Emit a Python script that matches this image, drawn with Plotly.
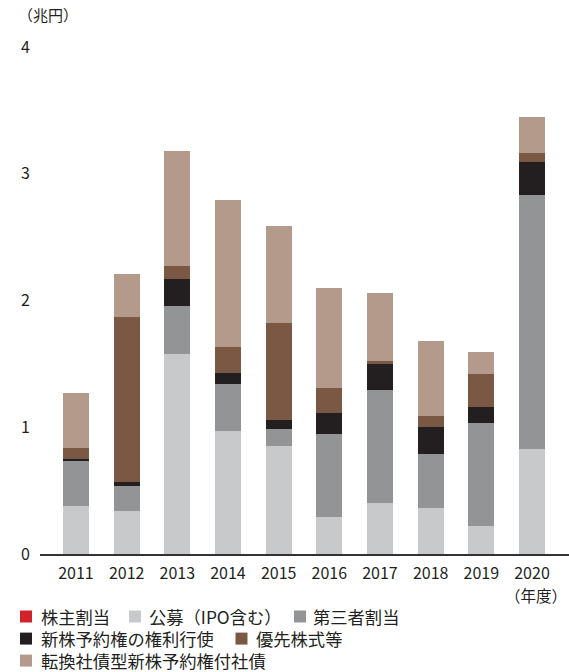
import plotly.graph_objects as go

# Fiscal years
years = ["2011", "2012", "2013", "2014", "2015", "2016", "2017", "2018", "2019", "2020"]

# Funds raised by method (trillion yen)
shareholder_allot = [0, 0, 0, 0, 0, 0, 0, 0, 0, 0]
public_offering = [0.38, 0.34, 1.58, 0.97, 0.85, 0.29, 0.40, 0.36, 0.22, 0.83]
third_party = [0.35, 0.20, 0.38, 0.37, 0.14, 0.66, 0.89, 0.43, 0.81, 2.00]
warrant_exercise = [0.02, 0.03, 0.21, 0.09, 0.07, 0.16, 0.21, 0.21, 0.13, 0.26]
preferred = [0.09, 1.30, 0.10, 0.20, 0.76, 0.20, 0.02, 0.09, 0.26, 0.07]
convertible = [0.43, 0.34, 0.91, 1.16, 0.77, 0.79, 0.54, 0.59, 0.17, 0.29]

series_names = ["株主割当", "公募（IPO含む）", "第三者割当",
                "新株予約権の権利行使", "優先株式等", "転換社債型新株予約権付社債"]
series_values = [shareholder_allot, public_offering, third_party,
                 warrant_exercise, preferred, convertible]
series_colors = ["#d2232a", "#c8c9cb", "#939495", "#231f20", "#7b5844", "#b39a8a"]

y_ticks = [0, 1, 2, 3, 4]

FONT = "Noto Sans CJK JP, Noto Sans, sans-serif"
TEXT = "#231f20"

W, H = 569, 672
ML, MR, MT, MB = 40, 0, 47, 118
PW, PH = W - ML - MR, H - MT - MB

fig = go.Figure()
for name, vals, col in zip(series_names, series_values, series_colors):
    fig.add_trace(go.Bar(
        x=years, y=vals, name=name, marker_color=col,
        marker_line_width=0, width=0.513, showlegend=False,
    ))


def px_x(px):
    return (px - ML) / PW


def px_y(py):
    return (H - MB - py) / PH


# legend rows: (square centre x, text x, row y, series index)
legend_items = [
    (26, 40, 616.5, 0), (135, 148, 616.5, 1), (300, 312, 616.5, 2),
    (26, 40, 638.6, 3), (241.5, 255, 638.6, 4),
    (26, 40, 660.6, 5),
]
shapes = []
annotations = []
for cx, tx, cy, i in legend_items:
    shapes.append(dict(
        type="rect", xref="paper", yref="paper",
        x0=px_x(cx - 6), x1=px_x(cx + 6), y0=px_y(cy + 6), y1=px_y(cy - 6),
        fillcolor=series_colors[i], line_width=0,
    ))
    annotations.append(dict(
        xref="paper", yref="paper", x=px_x(tx), y=px_y(cy),
        xanchor="left", yanchor="middle", showarrow=False, height=19,
        valign="middle", borderpad=0,
        text=series_names[i], font=dict(family=FONT, size=17.3, color=TEXT),
    ))

annotations.append(dict(
    xref="paper", yref="paper", x=px_x(16), y=px_y(15),
    xanchor="left", yanchor="middle", showarrow=False,
    text="（兆円）", font=dict(family=FONT, size=15, color=TEXT),
))
annotations.append(dict(
    xref="paper", yref="paper", x=px_x(569), y=px_y(595),
    xanchor="right", yanchor="middle", showarrow=False,
    text="（年度）", font=dict(family=FONT, size=15.5, color=TEXT),
))

fig.update_layout(
    barmode="stack",
    width=W, height=H,
    margin=dict(l=ML, r=MR, t=MT, b=MB, pad=0),
    paper_bgcolor="white", plot_bgcolor="white",
    font=dict(family=FONT, size=16, color=TEXT),
    shapes=shapes, annotations=annotations,
    xaxis=dict(
        type="category", range=[-0.71, 9.73],
        showline=True, linecolor="#333333", linewidth=1.5,
        ticks="", showgrid=False, zeroline=False,
        ticklabelstandoff=4,
        tickfont=dict(family=FONT, size=16, color=TEXT),
    ),
    yaxis=dict(
        range=[0, 4], tickvals=y_ticks, ticktext=[str(v) for v in y_ticks],
        showline=False, showgrid=False, zeroline=False, ticks="",
        ticklabelstandoff=9,
        tickfont=dict(family=FONT, size=16, color=TEXT),
    ),
)

fig.write_html("out.html")
